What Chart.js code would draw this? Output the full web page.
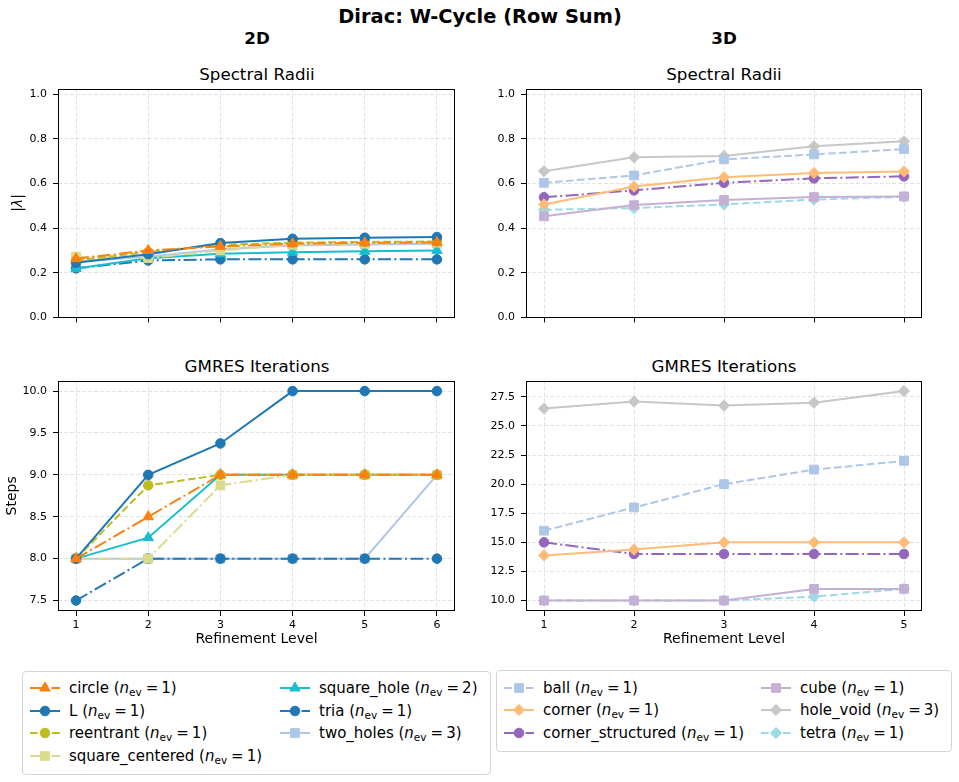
<!DOCTYPE html>
<html>
<head>
<meta charset="utf-8">
<script src="https://cdn.jsdelivr.net/npm/chart.js@4.4.1/dist/chart.umd.min.js"></script>
<style>
  body { margin: 0; width: 959px; height: 782px; position: relative; background: #fff; overflow: hidden;
         font-family: "DejaVu Sans", sans-serif; color: #000; }
  .t { position: absolute; transform: translate(-50%, -50%); white-space: nowrap; }
  .b { font-weight: bold; }
  canvas.c { position: absolute; }
  .legend { position: absolute; border: 1px solid #d4d4d4; border-radius: 4px; background: #fff; }
  .item { position: absolute; display: flex; align-items: center; font-size: 15px; white-space: nowrap; transform: translateY(-50%); }
  .item canvas { margin-right: 9px; }
  sub { font-size: 70%; vertical-align: -0.3em; line-height: 0; }
  .eq { margin: 0 3px 0 4px; }
</style>
</head>
<body>
<div class="t b" style="left:480px;top:16px;font-size:19.4px">Dirac: W-Cycle (Row Sum)</div>
<div class="t b" style="left:257px;top:38px;font-size:16.7px">2D</div>
<div class="t b" style="left:724px;top:38px;font-size:16.7px">3D</div>
<div class="t" style="left:257px;top:74px;font-size:16.7px">Spectral Radii</div>
<div class="t" style="left:724px;top:74px;font-size:16.7px">Spectral Radii</div>
<div class="t" style="left:257px;top:366px;font-size:16.7px">GMRES Iterations</div>
<div class="t" style="left:724px;top:366px;font-size:16.7px">GMRES Iterations</div>

<canvas class="c" id="rho2d" style="left:0px;top:76px" width="465" height="254"></canvas>
<canvas class="c" id="gm2d" style="left:0px;top:368px" width="465" height="284"></canvas>
<canvas class="c" id="rho3d" style="left:466px;top:76px" width="466" height="254"></canvas>
<canvas class="c" id="gm3d" style="left:466px;top:368px" width="466" height="284"></canvas>

<div class="legend" style="left:22px;top:671px;width:467px;height:102px"></div>
<div class="legend" style="left:496px;top:670px;width:454px;height:80px"></div>
<div id="legends"></div>

<script>
// refinement levels and tick labels
const levels2D = [1, 2, 3, 4, 5, 6];
const levels3D = [1, 2, 3, 4, 5];
const rhoTicks = [0.0, 0.2, 0.4, 0.6, 0.8, 1.0];
const steps2DTicks = [7.5, 8.0, 8.5, 9.0, 9.5, 10.0];
const steps3DTicks = [10.0, 12.5, 15.0, 17.5, 20.0, 22.5, 25.0, 27.5];

// 2D problems
const names2D = ['circle', 'L', 'reentrant', 'square_centered', 'square_hole', 'tria', 'two_holes'];
const nev2D = [1, 1, 1, 1, 2, 1, 3];
const rho2D = [
  [0.263, 0.300, 0.318, 0.330, 0.334, 0.336],  // circle
  [0.245, 0.283, 0.333, 0.352, 0.357, 0.360],  // L
  [0.255, 0.293, 0.325, 0.335, 0.338, 0.340],  // reentrant
  [0.272, 0.266, 0.300, 0.325, 0.330, 0.335],  // square_centered
  [0.219, 0.265, 0.285, 0.292, 0.296, 0.300],  // square_hole
  [0.220, 0.255, 0.260, 0.260, 0.260, 0.260],  // tria
  [0.250, 0.272, 0.305, 0.322, 0.327, 0.330],  // two_holes
];
const steps2D = [
  [8, 8.5, 9, 9, 9, 9],
  [8, 9, 9.375, 10, 10, 10],
  [8, 8.875, 9, 9, 9, 9],
  [8, 8, 8.875, 9, 9, 9],
  [8, 8.25, 9, 9, 9, 9],
  [7.5, 8, 8, 8, 8, 8],
  [8, 8, 8, 8, 8, 9],
];

// 3D problems
const names3D = ['ball', 'corner', 'corner_structured', 'cube', 'hole_void', 'tetra'];
const nev3D = [1, 1, 1, 1, 3, 1];
const rho3D = [
  [0.603, 0.636, 0.708, 0.730, 0.754],  // ball
  [0.506, 0.586, 0.628, 0.647, 0.654],  // corner
  [0.538, 0.569, 0.603, 0.623, 0.632],  // corner_structured
  [0.453, 0.503, 0.526, 0.539, 0.542],  // cube
  [0.655, 0.717, 0.723, 0.767, 0.789],  // hole_void
  [0.482, 0.490, 0.506, 0.528, 0.540],  // tetra
];
const steps3D = [
  [16, 18, 20, 21.25, 22],
  [13.875, 14.375, 15, 15, 15],
  [15, 14, 14, 14, 14],
  [10, 10, 10, 11, 11],
  [26.5, 27.1, 26.75, 27, 28],
  [10, 10, 10, 10.33, 11],
];

// styles
const colors2D = ['#ff7f0e', '#1f77b4', '#bcbd22', '#dbdb8d', '#17becf', '#1f77b4', '#aec7e8'];
const markers2D = ['triangle', 'circle', 'circle', 'rect', 'triangle', 'circle', 'rect'];
const lines2D = ['dashdot', 'solid', 'dashed', 'dashdot', 'solid', 'dashdot', 'solid'];
const colors3D = ['#aec7e8', '#ffbb78', '#9467bd', '#c5b0d5', '#c7c7c7', '#9edae5'];
const markers3D = ['rect', 'rectRot', 'circle', 'rect', 'rectRot', 'rectRot'];
const lines3D = ['dashed', 'solid', 'dashdot', 'solid', 'solid', 'dashed'];

const dashOf = { solid: [], dashed: [7.7, 3.3], dashdot: [13, 3.3, 2, 3.3] };
const radiusOf = { circle: 4.8, triangle: 6, rect: 6.2, rectRot: 5.6 };
const FONT = '"DejaVu Sans", sans-serif';

const framePlugin = {
  id: 'frame',
  afterDraw(chart) {
    const { ctx, chartArea: a } = chart;
    ctx.save();
    ctx.strokeStyle = '#000';
    ctx.lineWidth = 1;
    ctx.strokeRect(Math.round(a.left) + 0.5, Math.round(a.top) + 0.5,
      Math.round(a.right - a.left) - 1, Math.round(a.bottom - a.top) - 1);
    ctx.restore();
  }
};

function buildSets(levels, names, values, colors, markers, lines) {
  return names.map((name, i) => ({
    label: name,
    data: levels.map((lv, j) => ({ x: lv, y: values[i][j] })),
    borderColor: colors[i],
    backgroundColor: colors[i],
    pointBackgroundColor: colors[i],
    pointBorderColor: colors[i],
    pointStyle: markers[i],
    pointRadius: radiusOf[markers[i]],
    pointBorderWidth: 1,
    borderWidth: 2,
    borderDash: dashOf[lines[i]],
    tension: 0,
  }));
}

function makeChart(id, datasets, o) {
  const gridCommon = { color: '#dadada', lineWidth: 0.8, tickColor: '#000', tickWidth: 1, tickLength: 5 };
  new Chart(document.getElementById(id), {
    type: 'line',
    data: { datasets },
    plugins: [framePlugin],
    options: {
      responsive: false,
      animation: false,
      events: [],
      layout: { padding: { top: 10, right: 10, left: 0, bottom: 0 } },
      plugins: { legend: { display: false }, tooltip: { enabled: false } },
      scales: {
        x: {
          type: 'linear',
          min: o.xMin, max: o.xMax,
          afterBuildTicks: s => { s.ticks = o.xTicks.map(v => ({ value: v })); },
          afterFit: s => { s.height = o.xHeight; },
          grid: gridCommon,
          border: { display: false, dash: [4, 2] },
          ticks: { display: o.showX, padding: 3, color: '#000', font: { family: FONT, size: 11 },
                   callback: v => String(v) },
          title: { display: o.showX, text: 'Refinement Level', color: '#000', padding: { top: 0, bottom: 4 },
                   font: { family: FONT, size: 14 } },
        },
        y: {
          type: 'linear',
          min: o.yMin, max: o.yMax,
          afterBuildTicks: s => { s.ticks = o.yTicks.map(v => ({ value: v })); },
          afterFit: s => { s.width = o.yWidth; },
          grid: gridCommon,
          border: { display: false, dash: [4, 2] },
          ticks: { padding: 6, color: '#000', font: { family: FONT, size: 11 }, callback: v => v.toFixed(1) },
          title: { display: !!o.yTitle, text: o.yTitle || '', color: '#000', padding: { top: o.yTitlePad || 0, bottom: 0 },
                   font: { family: FONT, size: 14, style: o.yItalic ? 'italic' : 'normal' } },
        },
      },
    },
  });
}

makeChart('rho2d', buildSets(levels2D, names2D, rho2D, colors2D, markers2D, lines2D), {
  xMin: 0.75, xMax: 6.25, xTicks: levels2D, yMin: 0, yMax: 1.025, yTicks: rhoTicks,
  showX: false, xHeight: 10, yWidth: 58, yTitle: '|λ|', yTitlePad: 9.6, yItalic: true,
});
makeChart('gm2d', buildSets(levels2D, names2D, steps2D, colors2D, markers2D, lines2D), {
  xMin: 0.75, xMax: 6.25, xTicks: levels2D, yMin: 7.375, yMax: 10.125, yTicks: steps2DTicks,
  showX: true, xHeight: 41, yWidth: 58, yTitle: 'Steps', yTitlePad: 3.6,
});
makeChart('rho3d', buildSets(levels3D, names3D, rho3D, colors3D, markers3D, lines3D), {
  xMin: 0.8, xMax: 5.2, xTicks: levels3D, yMin: 0, yMax: 1.025, yTicks: rhoTicks,
  showX: false, xHeight: 10, yWidth: 60,
});
makeChart('gm3d', buildSets(levels3D, names3D, steps3D, colors3D, markers3D, lines3D), {
  xMin: 0.8, xMax: 5.2, xTicks: levels3D, yMin: 9.1, yMax: 28.9, yTicks: steps3DTicks,
  showX: true, xHeight: 41, yWidth: 60,
});

// legend handles
function drawMarker(ctx, style, x, y, r) {
  ctx.beginPath();
  if (style === 'circle') {
    ctx.arc(x, y, r, 0, Math.PI * 2);
  } else if (style === 'triangle') {
    ctx.moveTo(x, y - r);
    ctx.lineTo(x + r * 0.866, y + r * 0.5);
    ctx.lineTo(x - r * 0.866, y + r * 0.5);
    ctx.closePath();
  } else if (style === 'rect') {
    const s = r * Math.SQRT1_2;
    ctx.rect(x - s, y - s, 2 * s, 2 * s);
  } else {
    ctx.moveTo(x, y - r); ctx.lineTo(x + r, y); ctx.lineTo(x, y + r); ctx.lineTo(x - r, y);
    ctx.closePath();
  }
  ctx.fill();
  ctx.stroke();
}

function addLegend(names, nevs, colors, markers, lines, cols, rowY, perCol) {
  const host = document.getElementById('legends');
  names.forEach((name, i) => {
    const col = Math.floor(i / perCol), row = i % perCol;
    const item = document.createElement('div');
    item.className = 'item';
    item.style.left = cols[col] + 'px';
    item.style.top = rowY[row] + 'px';
    const cv = document.createElement('canvas');
    cv.width = 30; cv.height = 14;
    const ctx = cv.getContext('2d');
    ctx.strokeStyle = colors[i];
    ctx.fillStyle = colors[i];
    ctx.lineWidth = 2;
    ctx.setLineDash(dashOf[lines[i]]);
    ctx.beginPath(); ctx.moveTo(0, 7); ctx.lineTo(30, 7); ctx.stroke();
    ctx.setLineDash([]);
    ctx.lineWidth = 1;
    drawMarker(ctx, markers[i], 15, 7, radiusOf[markers[i]]);
    item.appendChild(cv);
    const sp = document.createElement('span');
    sp.innerHTML = name + ' (<i>n</i><sub>ev</sub><span class="eq">=</span>' + nevs[i] + ')';
    item.appendChild(sp);
    host.appendChild(item);
  });
}

addLegend(names2D, nev2D, colors2D, markers2D, lines2D, [30, 280], [688, 710.5, 733, 755.5], 4);
addLegend(names3D, nev3D, colors3D, markers3D, lines3D, [504, 761], [687.5, 710, 733], 3);
</script>
</body>
</html>
